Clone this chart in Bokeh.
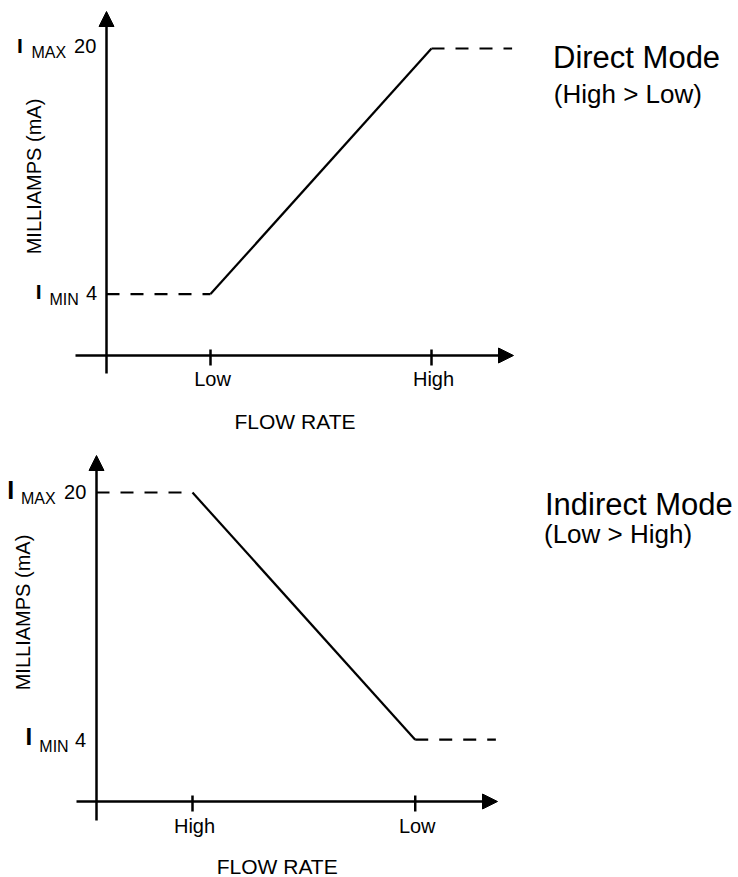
from bokeh.plotting import figure
from bokeh.models import Range1d, Arrow, NormalHead, Label
from bokeh.layouts import column
from bokeh.embed import file_html
from bokeh.resources import INLINE

FONT = "Liberation Sans"

# ---------------- data ----------------
levels_ma = [20, 4]
level_names = ["MAX", "MIN"]
x_title = "FLOW RATE"
y_title = "MILLIAMPS (mA)"

direct_title = "Direct Mode"
direct_note = "(High > Low)"
direct_ticks = ["Low", "High"]
direct_tick_pos = [1.0, 3.125]
direct_flow = [0.0, 1.0, 3.125, 3.9]
direct_ma = [4, 4, 20, 20]

indirect_title = "Indirect Mode"
indirect_note = "(Low > High)"
indirect_ticks = ["High", "Low"]
indirect_tick_pos = [1.0, 3.32]
indirect_flow = [0.0, 1.0, 3.32, 4.16]
indirect_ma = [20, 20, 4, 4]

# ---------------- layout (page pixels) ----------------
PAGE_W = 738
CAP_MID = 0.358  # half cap height / font size: texts are drawn centred on their anchor
TOP_LAYOUT = dict(
    top=0, height=440, ax=106, sx=104.0, y20=48, sy=15.35,
    yax_bottom=373, yax_tip=11, xax_start=75, xax_tip=513,
    lv=[  # (I left, I dy, I size, sub left, sub dy, sub size, num right, num dy, num size)
        (16.6, 5.0, 21, 31.0, 10.0, 16, 95.8, 5.0, 20),
        (35.2, 5.4, 21, 49.0, 11.4, 16, 96.5, 5.7, 20),
    ],
    title=(552.5, 68, 31), note=(553.3, 103, 26),
    xt=(294.5, 429), yt=(41, 176), tick_base=31,
)
BOT_LAYOUT = dict(
    top=440, height=437, ax=96, sx=96.0, y20=492, sy=15.45,
    yax_bottom=820, yax_tip=455, xax_start=76, xax_tip=497,
    lv=[
        (6.8, 6.0, 25, 20.5, 12.0, 16, 85.8, 7.0, 20),
        (25.1, 5.8, 24, 38.8, 12.8, 16, 85.7, 7.3, 20),
    ],
    title=(544.5, 515, 31), note=(543.5, 543, 26),
    xt=(276.7, 874), yt=(30, 612), tick_base=32,
)


def panel(flow, ma, tick_pos, tick_labels, title, note, L):
    top, H, ax, sx, y20, sy = L["top"], L["height"], L["ax"], L["sx"], L["y20"], L["sy"]

    def dx(X):
        return (X - ax) / sx

    def dy(Y):
        return 20 - (Y - y20) / sy

    p = figure(width=PAGE_W, height=H,
               x_range=Range1d(dx(0), dx(PAGE_W)), y_range=Range1d(dy(top + H), dy(top)),
               x_axis_type=None, y_axis_type=None, toolbar_location=None,
               output_backend="svg", min_border=0, title=None,
               outline_line_color=None, background_fill_color="white",
               border_fill_color="white")

    # axes with arrow heads
    p.add_layout(Arrow(end=NormalHead(size=15, fill_color="black", line_color="black", line_width=1),
                       x_start=0, y_start=dy(L["yax_bottom"]), x_end=0, y_end=dy(L["yax_tip"]),
                       line_width=2.5, line_color="black"))
    p.add_layout(Arrow(end=NormalHead(size=15, fill_color="black", line_color="black", line_width=1),
                       x_start=dx(L["xax_start"]), y_start=0, x_end=dx(L["xax_tip"]), y_end=0,
                       line_width=2.5, line_color="black"))

    # tick marks
    n = len(tick_pos)
    p.segment(x0=tick_pos, y0=[-10 / sy] * n, x1=tick_pos, y1=[6 / sy] * n,
              line_width=2.5, line_color="black")

    # response curve
    p.line(flow[:2], ma[:2], line_color="black", line_width=2.2, line_dash="13 11")
    p.line(flow[1:3], ma[1:3], line_color="black", line_width=2.2)
    p.line(flow[2:], ma[2:], line_color="black", line_width=2.2, line_dash="13 11")

    def lab(x, y, text, size, align="left", rotated=False, style="normal"):
        # (x, y) is the baseline anchor in data units; shift to the cap middle
        if rotated:
            x = x - CAP_MID * size / sx
        else:
            y = y + CAP_MID * size / sy
        p.add_layout(Label(x=x, y=y, text=text, text_font=FONT, text_font_size=f"{size}px",
                           text_align=align, text_baseline="alphabetic",
                           angle=1.5707963267948966 if rotated else 0.0,
                           text_color="black", text_font_style=style))

    # tick labels
    for pos, t in zip(tick_pos, tick_labels):
        lab(pos + 2 / sx, -L["tick_base"] / sy, t, 20, align="center")

    # level labels
    for lvl, name, spec in zip(levels_ma, level_names, L["lv"]):
        il, idy, isz, sl, sdy, ssz, nr, ndy, nsz = spec
        lab(dx(il), lvl - idy / sy, "I", isz, style="bold")
        lab(dx(sl), lvl - sdy / sy, name, ssz)
        lab(dx(nr), lvl - ndy / sy, str(lvl), nsz, align="right")

    # titles
    tx, tyb, tsz = L["title"]
    lab(dx(tx), dy(tyb), title, tsz)
    nx, nyb, nsz2 = L["note"]
    lab(dx(nx), dy(nyb), note, nsz2)

    # axis titles
    xtx, xtb = L["xt"]
    lab(dx(xtx), dy(xtb), x_title, 21, align="center")
    ytb, ytc = L["yt"]
    lab(dx(ytb), dy(ytc), y_title, 20, align="center", rotated=True)
    return p


p1 = panel(direct_flow, direct_ma, direct_tick_pos, direct_ticks, direct_title, direct_note, TOP_LAYOUT)
p2 = panel(indirect_flow, indirect_ma, indirect_tick_pos, indirect_ticks, indirect_title, indirect_note, BOT_LAYOUT)

layout = column(p1, p2)
open("out.html", "w").write(file_html(layout, INLINE))
